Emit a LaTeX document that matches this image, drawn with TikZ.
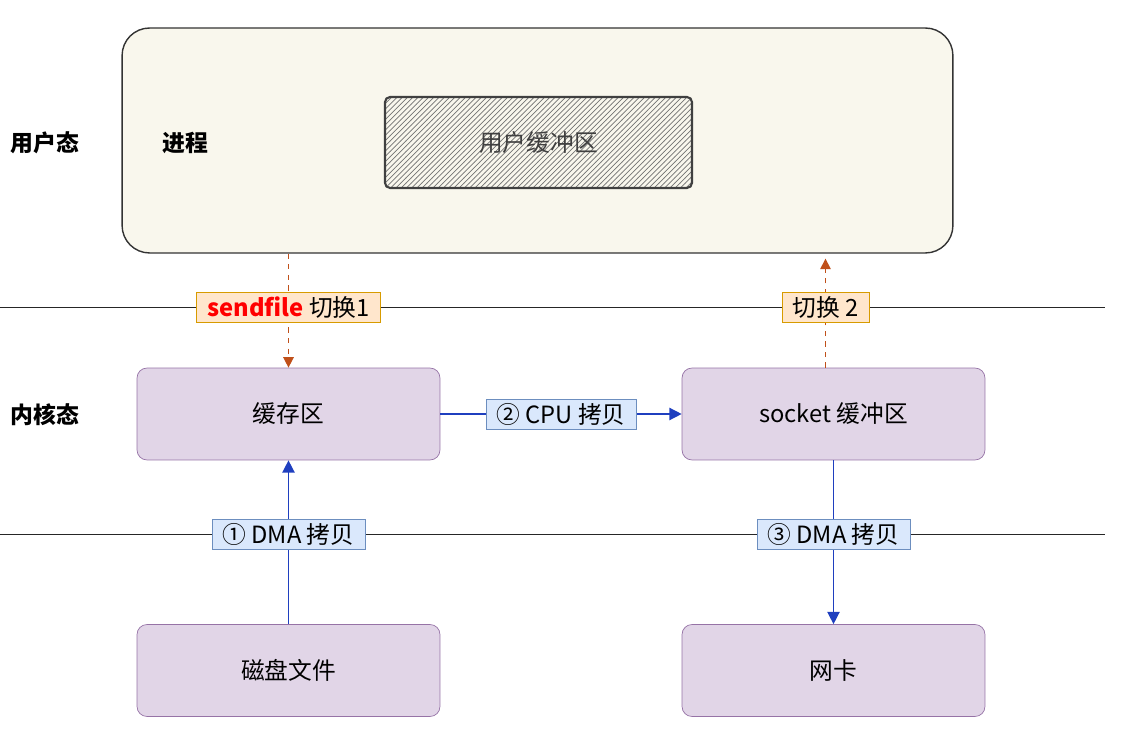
\documentclass[tikz,border=0pt]{standalone}
\usepackage{fontspec}
\setmainfont{Noto Sans CJK SC}
\usetikzlibrary{arrows.meta,patterns,calc}

\definecolor{procfill}{HTML}{F9F7ED}
\definecolor{kernfill}{HTML}{E1D5E7}
\definecolor{kerndraw}{HTML}{9673A6}
\definecolor{swfill}{HTML}{FFE6CC}
\definecolor{swdraw}{HTML}{D79B00}
\definecolor{cpfill}{HTML}{DAE8FC}
\definecolor{cpdraw}{HTML}{6C8EBF}
\definecolor{swarrow}{HTML}{C0501A}
\definecolor{cparrow}{HTML}{1F3FBF}

\begin{document}
\begin{tikzpicture}[x=0.02cm, y=-0.02cm,
    font=\fontsize{13.5pt}{15pt}\selectfont,
    kernbox/.style={draw=kerndraw, fill=kernfill, rounded corners=0.2cm,
        minimum width=6.06cm, minimum height=1.84cm, inner sep=0pt},
    swlabel/.style={draw=swdraw, fill=swfill, inner xsep=6pt, inner ysep=2pt, minimum height=0.6cm},
    cplabel/.style={draw=cpdraw, fill=cpfill, inner xsep=6pt, inner ysep=2pt, minimum height=0.6cm},
    swline/.style={swarrow, dashed, thick, -{Triangle[length=6pt,width=6pt]}},
    cpline/.style={cparrow, thick, -{Triangle[length=7pt,width=7pt]}},
    statetext/.style={font=\fontsize{13pt}{15pt}\selectfont\bfseries}
  ]
    \useasboundingbox (0,0) rectangle (1129,742);

    % user space
    \node[draw=black!80, fill=procfill, rounded corners=0.55cm, thick,
        minimum width=16.62cm, minimum height=4.5cm] (proc) at (537.5,140.5) {};
    \node[draw=black!75, very thick, rounded corners=0.1cm, fill=white!96!black,
        pattern=north east lines, pattern color=black!55,
        minimum width=6.14cm, minimum height=1.82cm] (ubufbg) at (538.5,142.5) {};
    \node[text=black!75] (ubuf) at (538.5,142.5) {用户缓冲区};
    \node[statetext] (user) at (45,143) {用户态};
    \node[statetext] (procname) at (185,143) {进程};
    \node[statetext] (kern) at (45,415) {内核态};

    % separators
    \coordinate (ul) at (0,307);
    \coordinate (ur) at (1105,307);
    \coordinate (ll) at (0,534);
    \coordinate (lr) at (1105,534);
    \draw[black!85] (ul) -- (ur);
    \draw[black!85] (ll) -- (lr);

    % kernel and devices
    \node[kernbox] (cache) at (288.5,414) {缓存区};
    \node[kernbox] (sock) at (833.5,414) {socket 缓冲区};
    \node[kernbox] (disk) at (288.5,670.5) {磁盘文件};
    \node[kernbox] (nic) at (833.5,670.5) {网卡};

    % arrows
    \draw[swline] (cache.north |- proc.south) -- (cache.north);
    \draw[swline] ([xshift=-0.16cm]sock.north) -- ([xshift=-0.16cm,yshift=-0.1cm]sock.north |- proc.south);
    \draw[cpline] (disk.north) -- (cache.south);
    \draw[cpline] (cache.east) -- (sock.west);
    \draw[cpline] (sock.south) -- (nic.north);

    % labels
    \node[swlabel] (sw1) at (cache.north |- ul) {\textcolor{red}{\bfseries sendfile} 切换1};
    \node[swlabel] (sw2) at ([xshift=-0.16cm]sock.north |- ul) {切换 2};
    \node[cplabel] (cp1) at (cache.south |- ll) {① DMA 拷贝};
    \node[cplabel] (cp2) at ($(cache.east)!0.5!(sock.west)$) {② CPU 拷贝};
    \node[cplabel] (cp3) at (sock.south |- ll) {③ DMA 拷贝};
\end{tikzpicture}
\end{document}
